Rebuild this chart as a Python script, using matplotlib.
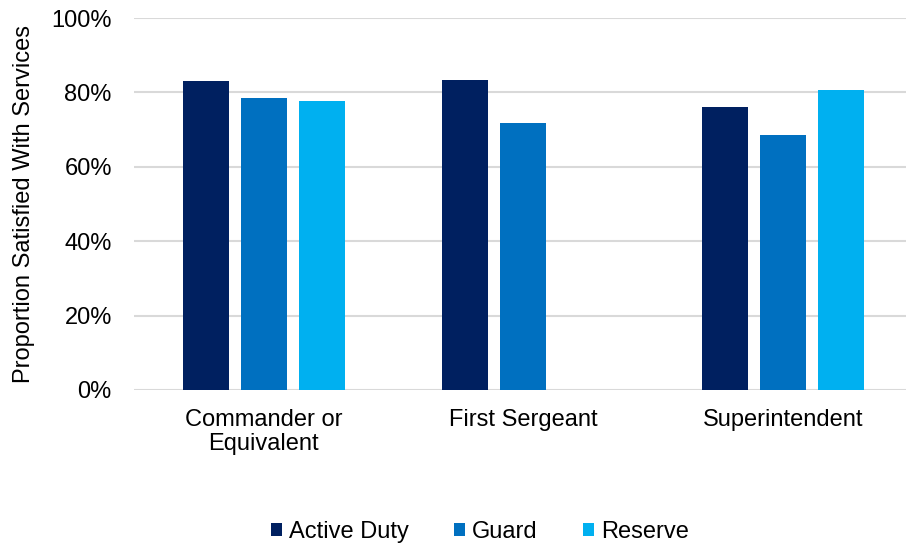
import numpy as np
import matplotlib
matplotlib.use('Agg')
import matplotlib.pyplot as plt
from matplotlib.ticker import PercentFormatter

plt.rcParams['font.family'] = ['Liberation Sans', 'DejaVu Sans']

categories = ['Commander or\nEquivalent', 'First Sergeant', 'Superintendent']
active_duty = [83.0, 83.2, 76.2]
guard = [78.5, 71.9, 68.5]
reserve = [77.6, None, 80.7]

series = [('Active Duty', active_duty, '#002060'),
          ('Guard', guard, '#0070C0'),
          ('Reserve', reserve, '#00B0F0')]

fs = 17

fig = plt.figure(figsize=(9.06, 5.48), dpi=100)
ax = fig.add_axes([134/906, 158/548, 772/906, 372/548])

x = np.arange(len(categories))
step = 0.2235
width = 0.178
for i, (name, vals, color) in enumerate(series):
    xs = [xi + (i - 1) * step for xi, v in zip(x, vals) if v is not None]
    vs = [v for v in vals if v is not None]
    ax.bar(xs, vs, width=width, color=color, label=name, zorder=3)

ax.set_xlim(-0.5, 2.474)
ax.set_ylim(0, 100)
ax.set_yticks(np.arange(0, 101, 20))
ax.yaxis.set_major_formatter(PercentFormatter(decimals=0))
ax.set_xticks(x)
ax.set_xticklabels(categories, fontsize=fs, linespacing=1.1)
ax.tick_params(axis='y', labelsize=fs, length=0, pad=16)
ax.tick_params(axis='x', length=0, pad=14)
ax.grid(axis='y', color='#D9D9D9', linewidth=1.5, zorder=0)
for s in ax.spines.values():
    s.set_visible(False)

ax.set_ylabel('Proportion Satisfied With Services', fontsize=fs, labelpad=12)

fig.legend(*ax.get_legend_handles_labels(), loc='center',
           bbox_to_anchor=(480/906, 1 - 532/548), ncol=3,
           frameon=False, fontsize=fs, handlelength=0.47, handleheight=0.47,
           handletextpad=0.3, columnspacing=1.9, borderpad=0, borderaxespad=0)

fig.savefig('out.png', dpi=100)
